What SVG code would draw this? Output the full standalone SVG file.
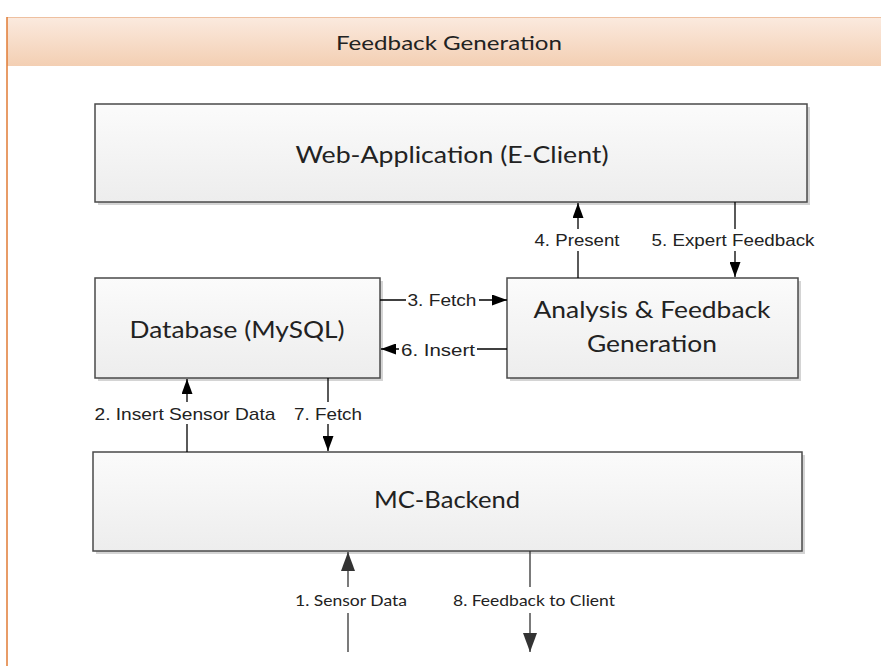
<svg xmlns="http://www.w3.org/2000/svg" width="881" height="666" viewBox="0 0 881 666">
<defs>
<linearGradient id="hdr" x1="0" y1="0" x2="0" y2="1">
<stop offset="0" stop-color="#fbeadf"/>
<stop offset="1" stop-color="#f3cfb3"/>
</linearGradient>
<linearGradient id="box" x1="0" y1="0" x2="0" y2="1">
<stop offset="0" stop-color="#fbfbfb"/>
<stop offset="1" stop-color="#ededed"/>
</linearGradient>
<marker id="ah" viewBox="0 0 10 10" refX="10" refY="5" markerWidth="15" markerHeight="11" markerUnits="userSpaceOnUse" orient="auto" preserveAspectRatio="none">
<path d="M0,0 L10,5 L0,10 z" fill="#000"/>
</marker>
<marker id="ahL" viewBox="0 0 10 10" refX="10" refY="5" markerWidth="19" markerHeight="14" markerUnits="userSpaceOnUse" orient="auto" preserveAspectRatio="none">
<path d="M0,0 L10,5 L0,10 z" fill="#333"/>
</marker>
</defs>
<style>
.box{fill:url(#box);stroke:#4a4a4a;stroke-width:1.5}
.shadow{fill:#d4d4d4}
.bt{font-family:Lato,"Open Sans",sans-serif;fill:#222;text-anchor:middle}
.cl{font-family:"Liberation Sans",Arial,sans-serif;font-size:17px;fill:#222;text-anchor:middle}
.bl{font-family:Lato,"Open Sans",sans-serif;font-size:16px;fill:#222;text-anchor:middle}
.ln{stroke:#000;stroke-width:1.3;fill:none}
.lnb{stroke:#333;stroke-width:1.3;fill:none}
.lbg{fill:#fff}
</style>
<rect x="0" y="0" width="881" height="666" fill="#fff"/>
<g id="header">
<rect x="7" y="17" width="874" height="49" fill="url(#hdr)"/>
<line x1="7" y1="17.5" x2="881" y2="17.5" stroke="#eec0a0" stroke-width="1"/>
<line x1="7" y1="17" x2="7" y2="666" stroke="#e07b35" stroke-width="1.5"/>
<text class="bt" x="449" y="50" font-size="19" textLength="226" lengthAdjust="spacingAndGlyphs">Feedback Generation</text>
</g>
<g id="web-app">
<rect class="shadow" x="98" y="107" width="712" height="98"/>
<rect class="box" x="95" y="104" width="712" height="98"/>
<text class="bt" x="452" y="163" font-size="24" textLength="313" lengthAdjust="spacingAndGlyphs">Web-Application (E-Client)</text>
</g>
<g id="database">
<rect class="shadow" x="98" y="281" width="285" height="100"/>
<rect class="box" x="95" y="278" width="285" height="100"/>
<text class="bt" x="237" y="338" font-size="24" textLength="215" lengthAdjust="spacingAndGlyphs">Database (MySQL)</text>
</g>
<g id="analysis">
<rect class="shadow" x="510" y="281" width="291" height="100"/>
<rect class="box" x="507" y="278" width="291" height="100"/>
<text class="bt" x="652" y="318" font-size="24" textLength="237" lengthAdjust="spacingAndGlyphs">Analysis &amp; Feedback</text>
<text class="bt" x="652" y="352" font-size="24" textLength="130" lengthAdjust="spacingAndGlyphs">Generation</text>
</g>
<g id="mc-backend">
<rect class="shadow" x="96" y="455" width="709" height="99"/>
<rect class="box" x="93" y="452" width="709" height="99"/>
<text class="bt" x="447" y="508" font-size="24" textLength="146" lengthAdjust="spacingAndGlyphs">MC-Backend</text>
</g>
<g id="connectors">
<line class="ln" x1="578" y1="278" x2="578" y2="203" marker-end="url(#ah)"/>
<rect class="lbg" x="533" y="229" width="89" height="22"/>
<text class="cl" x="577" y="246" textLength="85" lengthAdjust="spacingAndGlyphs">4. Present</text>
<line class="ln" x1="735" y1="202" x2="735" y2="277" marker-end="url(#ah)"/>
<rect class="lbg" x="650" y="229" width="167" height="22"/>
<text class="cl" x="733" y="246" textLength="163" lengthAdjust="spacingAndGlyphs">5. Expert Feedback</text>
<line class="ln" x1="380" y1="300" x2="507" y2="300" marker-end="url(#ah)"/>
<rect class="lbg" x="406" y="291" width="73" height="18"/>
<text class="cl" x="442" y="306" textLength="69" lengthAdjust="spacingAndGlyphs">3. Fetch</text>
<line class="ln" x1="507" y1="349" x2="381" y2="349" marker-end="url(#ah)"/>
<rect class="lbg" x="399" y="340" width="78" height="18"/>
<text class="cl" x="438" y="356" textLength="74" lengthAdjust="spacingAndGlyphs">6. Insert</text>
<line class="ln" x1="187" y1="452" x2="187" y2="379" marker-end="url(#ah)"/>
<rect class="lbg" x="93" y="402" width="186" height="22"/>
<text class="cl" x="185" y="420" textLength="181" lengthAdjust="spacingAndGlyphs">2. Insert Sensor Data</text>
<line class="ln" x1="328" y1="378" x2="328" y2="451" marker-end="url(#ah)"/>
<rect class="lbg" x="292" y="402" width="72" height="22"/>
<text class="cl" x="328" y="420" textLength="68" lengthAdjust="spacingAndGlyphs">7. Fetch</text>
<line class="lnb" x1="348" y1="652" x2="348" y2="552" marker-end="url(#ahL)"/>
<rect class="lbg" x="292" y="587" width="118" height="26"/>
<text class="bl" x="351" y="606" textLength="112" lengthAdjust="spacingAndGlyphs">1. Sensor Data</text>
<line class="lnb" x1="530" y1="551" x2="530" y2="652" marker-end="url(#ahL)"/>
<rect class="lbg" x="450" y="587" width="168" height="26"/>
<text class="bl" x="534" y="606" textLength="162" lengthAdjust="spacingAndGlyphs">8. Feedback to Client</text>
</g>
</svg>
